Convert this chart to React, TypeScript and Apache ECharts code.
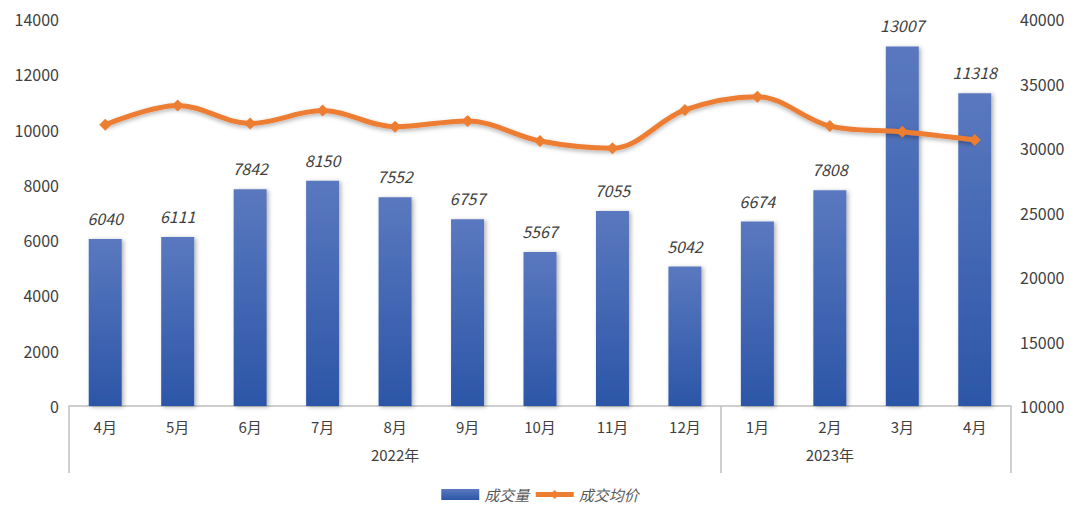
import React, { useEffect, useRef } from "react";
import * as echarts from "echarts";

const months = ["4月", "5月", "6月", "7月", "8月", "9月", "10月", "11月", "12月", "1月", "2月", "3月", "4月"];
const volume = [6040, 6111, 7842, 8150, 7552, 6757, 5567, 7055, 5042, 6674, 7808, 13007, 11318];
const avgPrice = [31800, 33300, 31900, 32900, 31650, 32100, 30540, 29980, 32950, 33980, 31700, 31260, 30620];
const years = ["2022年", "2023年"];
const yearCenters = [4.5, 10.5];
const yearBounds = [0, 9, 13];

const FONT = "'Noto Sans CJK SC', 'Noto Sans', sans-serif";
const TXT = "#404040";
const GRAY = "#bfbfbf";

export default function App() {
  const ref = useRef<HTMLDivElement>(null);
  useEffect(() => {
    document.body.style.margin = "0";
    const chart = echarts.init(ref.current!, null, { renderer: "svg" });
    chart.setOption({
      animation: false,
      textStyle: { fontFamily: FONT },
      grid: { left: 69, right: 69, top: 19, bottom: 115, containLabel: false },
      legend: {
        bottom: 14,
        left: "center",
        itemGap: 4,
        itemWidth: 38,
        itemHeight: 11,
        textStyle: { color: "#595959", fontSize: 15, fontStyle: "italic", fontFamily: FONT },
        data: [
          { name: "成交量", icon: "rect" },
          { name: "成交均价", lineStyle: { width: 5, color: "#ed7d31" }, itemStyle: { color: "#ed7d31" } },
        ],
      },
      xAxis: [
        {
          type: "category",
          data: months,
          position: "bottom",
          axisLine: { show: true, lineStyle: { color: GRAY, width: 1.5 } },
          axisTick: { show: false },
          axisLabel: { color: TXT, fontSize: 15, margin: 13, fontFamily: FONT },
        },
        {
          type: "value",
          min: 0,
          max: 13,
          position: "bottom",
          axisLine: { show: false },
          splitLine: { show: false },
          axisTick: {
            show: true,
            customValues: yearBounds,
            length: 67,
            lineStyle: { color: GRAY, width: 1.5 },
          },
          axisLabel: {
            show: true,
            customValues: yearCenters,
            margin: 41,
            color: TXT,
            fontSize: 15,
            fontFamily: FONT,
            formatter: (v: number) => {
              const i = yearCenters.indexOf(v);
              return i >= 0 ? years[i] : "";
            },
          },
        },
      ],
      yAxis: [
        {
          type: "value",
          min: 0,
          max: 14000,
          interval: 2000,
          axisLine: { show: false },
          axisTick: { show: false },
          splitLine: { show: false },
          axisLabel: { color: TXT, fontSize: 16, margin: 10, fontFamily: FONT, formatter: (v: number) => String(v) },
        },
        {
          type: "value",
          min: 10000,
          max: 40000,
          interval: 5000,
          axisLine: { show: false },
          axisTick: { show: false },
          splitLine: { show: false },
          axisLabel: { color: TXT, fontSize: 16, margin: 9, fontFamily: FONT, formatter: (v: number) => String(v) },
        },
      ],
      series: [
        {
          name: "成交量",
          type: "bar",
          xAxisIndex: 0,
          yAxisIndex: 0,
          data: volume,
          barWidth: 33,
          itemStyle: {
            color: new echarts.graphic.LinearGradient(0, 0, 0, 1, [
              { offset: 0, color: "#5a78bf" },
              { offset: 1, color: "#2c56a7" },
            ]),
            shadowColor: "rgba(0,0,0,0.3)",
            shadowBlur: 4,
            shadowOffsetX: 2,
            shadowOffsetY: 1,
          },
          label: {
            show: true,
            position: "top",
            distance: 13,
            color: TXT,
            fontSize: 16,
            fontStyle: "italic",
            fontFamily: FONT,
          },
        },
        {
          name: "成交均价",
          type: "line",
          xAxisIndex: 0,
          yAxisIndex: 1,
          data: avgPrice,
          smooth: 0.35,
          symbol: "diamond",
          symbolSize: 12,
          lineStyle: {
            color: "#ed7d31",
            width: 5,
            shadowColor: "rgba(0,0,0,0.3)",
            shadowBlur: 4,
            shadowOffsetY: 2,
          },
          itemStyle: { color: "#ed7d31" },
          z: 5,
        },
      ],
    });
    return () => chart.dispose();
  }, []);
  return <div ref={ref} style={{ width: 1080, height: 521 }} />;
}
